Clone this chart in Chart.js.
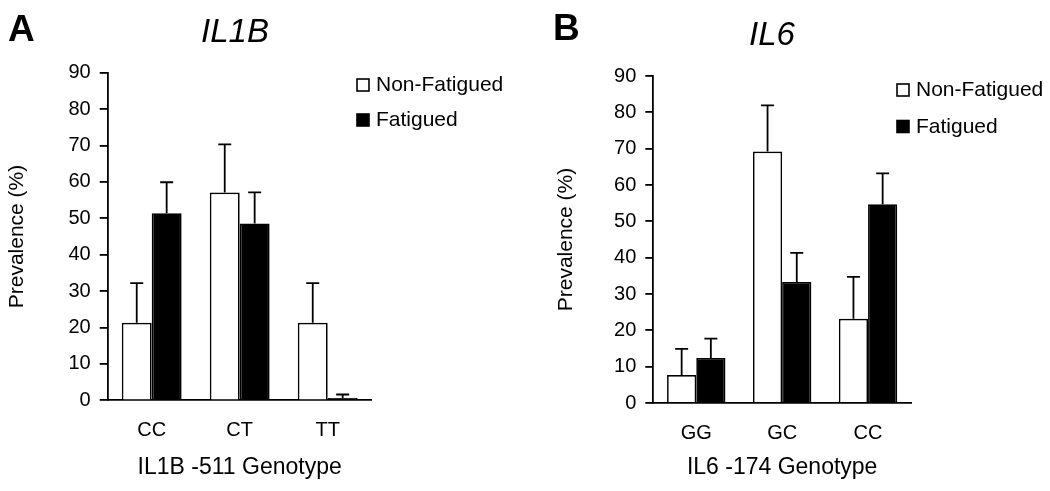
<!DOCTYPE html>
<html>
<head>
<meta charset="utf-8">
<script src="https://cdn.jsdelivr.net/npm/chart.js@4.4.1/dist/chart.umd.min.js"></script>
<style>
  html, body { margin: 0; padding: 0; background: #fff; }
  #wrap { position: relative; width: 1050px; height: 491px; overflow: hidden; }
  .panel { position: absolute; top: 0; height: 491px; }
</style>
</head>
<body>
<div id="wrap">
  <div class="panel" style="left:0; width:525px;"><canvas id="chartA"></canvas></div>
  <div class="panel" style="left:549px; width:501px;"><canvas id="chartB"></canvas></div>
</div>
<script>
// data
const seriesNames = ['Non-Fatigued', 'Fatigued'];
const yTicks = [0, 10, 20, 30, 40, 50, 60, 70, 80, 90];

const genotypesA = ['CC', 'CT', 'TT'];
const nonFatA = [21.3, 57.1, 21.3];
const nonFatErrA = [10.9, 13.2, 10.9];
const fatA = [51.4, 48.6, 0.6];
const fatErrA = [8.5, 8.5, 1.0];

const genotypesB = ['GG', 'GC', 'CC'];
const nonFatB = [7.7, 69.2, 23.2];
const nonFatErrB = [7.2, 12.7, 11.5];
const fatB = [12.4, 33.3, 54.7];
const fatErrB = [5.3, 8.0, 8.5];

const FONT = "'Liberation Sans', Arial, Helvetica, sans-serif";

// error bars (upper only, with cap)
const errorBars = {
    id: 'errorBars',
    afterDatasetsDraw(chart) {
        const ctx = chart.ctx;
        const yScale = chart.scales.y;
        ctx.save();
        ctx.strokeStyle = '#000';
        ctx.lineWidth = 1.8;
        chart.data.datasets.forEach((ds, i) => {
            const meta = chart.getDatasetMeta(i);
            meta.data.forEach((bar, j) => {
                const top = yScale.getPixelForValue(ds.data[j] + ds.errors[j]);
                ctx.beginPath();
                ctx.moveTo(bar.x, bar.y);
                ctx.lineTo(bar.x, top);
                ctx.moveTo(bar.x - 6.5, top);
                ctx.lineTo(bar.x + 6.5, top);
                ctx.stroke();
            });
        });
        ctx.restore();
    }
};

// panel letter, gene title and legend
const decorations = {
    id: 'decorations',
    afterDraw(chart, args, opts) {
        const ctx = chart.ctx;
        ctx.save();
        ctx.fillStyle = '#000';
        ctx.textBaseline = 'alphabetic';

        ctx.textAlign = 'left';
        ctx.font = 'bold 37px ' + FONT;
        ctx.fillText(opts.letter, opts.letterX, opts.letterY);

        ctx.textAlign = 'center';
        ctx.font = 'italic 33px ' + FONT;
        ctx.fillText(opts.title, opts.titleX, opts.titleY);

        ctx.textAlign = 'left';
        ctx.font = '21px ' + FONT;
        ctx.lineWidth = 1.6;
        chart.data.datasets.forEach((ds, i) => {
            const top = opts.legendY + i * opts.legendGap;
            ctx.fillStyle = ds.backgroundColor;
            ctx.fillRect(opts.legendX, top, 12, 12);
            ctx.strokeStyle = '#000';
            ctx.strokeRect(opts.legendX, top, 12, 12);
            ctx.fillStyle = '#000';
            ctx.fillText(ds.label, opts.legendX + 19, top + 12);
        });
        ctx.restore();
    }
};

function makeChart(canvasId, labels, nonFat, nonFatErr, fat, fatErr, xTitle, p) {
    const ctx = document.getElementById(canvasId).getContext('2d');
    return new Chart(ctx, {
        type: 'bar',
        data: {
            labels: labels,
            datasets: [{
                label: seriesNames[0],
                data: nonFat,
                errors: nonFatErr,
                backgroundColor: '#ffffff',
                borderColor: '#000000',
                borderWidth: 1.7
            }, {
                label: seriesNames[1],
                data: fat,
                errors: fatErr,
                backgroundColor: '#000000',
                borderColor: '#000000',
                borderWidth: 1.7
            }]
        },
        options: {
            responsive: true,
            maintainAspectRatio: false,
            animation: false,
            layout: { padding: { top: p.top, right: p.right, left: 0, bottom: 0 } },
            datasets: { bar: { categoryPercentage: 0.68, barPercentage: 1.0 } },
            plugins: {
                legend: { display: false },
                tooltip: { enabled: false },
                decorations: p.deco
            },
            scales: {
                x: {
                    offset: true,
                    grid: { display: false, drawTicks: false },
                    border: { display: true, color: '#000', width: 1.8 },
                    ticks: { color: '#000', font: { family: FONT, size: 20 }, padding: 18 },
                    title: {
                        display: true, text: xTitle, color: '#000',
                        font: { family: FONT, size: 23 }, padding: { top: 0, bottom: 10 }
                    },
                    afterFit: s => { s.height = p.xHeight; }
                },
                y: {
                    min: 0,
                    max: 90,
                    afterBuildTicks: s => { s.ticks = yTicks.map(v => ({ value: v })); },
                    grid: { drawOnChartArea: false, drawTicks: true, tickLength: 8, color: '#000', lineWidth: 1.8 },
                    border: { display: true, color: '#000', width: 1.8 },
                    ticks: { color: '#000', font: { family: FONT, size: 20 }, padding: 9 },
                    title: {
                        display: true, text: 'Prevalence (%)', color: '#000',
                        font: { family: FONT, size: 21 }, padding: { top: 5, bottom: 0 }
                    },
                    afterFit: s => { s.width = p.yWidth; }
                }
            }
        },
        plugins: [errorBars, decorations]
    });
}

makeChart('chartA', genotypesA, nonFatA, nonFatErrA, fatA, fatErrA, 'IL1B -511 Genotype', {
    top: 72.7, right: 153.3, xHeight: 90.7, yWidth: 107.7,
    deco: { letter: 'A', letterX: 8, letterY: 41, title: 'IL1B', titleX: 235, titleY: 42,
            legendX: 357, legendY: 79, legendGap: 35 }
});

makeChart('chartB', genotypesB, nonFatB, nonFatErrB, fatB, fatErrB, 'IL6 -174 Genotype', {
    top: 76, right: 139, xHeight: 88, yWidth: 104.3,
    deco: { letter: 'B', letterX: 4, letterY: 40, title: 'IL6', titleX: 223, titleY: 45,
            legendX: 348, legendY: 84, legendGap: 36.5 }
});
</script>
</body>
</html>
